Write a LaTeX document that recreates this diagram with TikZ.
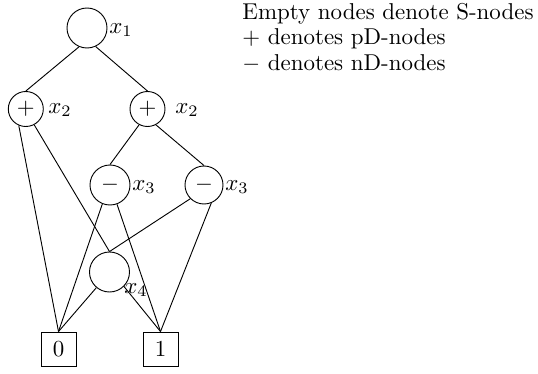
\documentclass[tikz,border=0pt]{standalone}
\begin{document}
\begin{tikzpicture}[x=0.436pt,y=-0.436pt,
  cnode/.style={draw,circle,inner sep=0pt},
  big/.style={cnode,minimum size=40*0.436pt},
  small/.style={cnode,minimum size=35*0.436pt},
  leaf/.style={draw,rectangle,inner sep=0pt,minimum width=35*0.436pt,minimum height=34*0.436pt},
  lbl/.style={inner sep=0pt},
  txt/.style={anchor=base west,inner sep=0pt},
  edge/.style={line width=0.4pt}]
\useasboundingbox (0,0) rectangle (538,373);
% nodes
\node[big] (n1) at (87,28) {};
\node[small] (lp) at (25.8,109) {$+$};
\node[small] (rp) at (147.5,109) {$+$};
\node[big] (lm) at (110,185) {$-$};
\node[cnode,minimum size=38*0.436pt] (rm) at (204,185) {$-$};
\node[big] (n4) at (109.5,272) {};
\node[leaf] (b0) at (58.5,349) {$0$};
\node[leaf] (b1) at (160.5,349) {$1$};
% labels
\node[lbl] (l1) at (121,30) {$x_1$};
\node[lbl] (l2a) at (60,110) {$x_2$};
\node[lbl] (l2b) at (187,110) {$x_2$};
\node[lbl] (l3a) at (144,187) {$x_3$};
\node[lbl] (l3b) at (237,187) {$x_3$};
\node[lbl] (l4) at (136,290) {$x_4$};
% edges
\draw[edge] (n1.-113) -- (lp.north);
\draw[edge] (n1.-65) -- (rp.north);
\draw[edge] (lp.-113) -- (b0.north);
\draw[edge] (lp.-62) -- (n4.north);
\draw[edge] (rp.-118) -- (lm.north);
\draw[edge] (rp.-62) -- (rm.north);
\draw[edge] (lm.-112) -- (b0.north);
\draw[edge] (lm.-70) -- (b1.north);
\draw[edge] (rm.-135) -- (n4.north);
\draw[edge] (rm.-68) -- (b1.north);
\draw[edge] (n4.-130) -- (b0.north);
\draw[edge] (n4.-45) -- (b1.north);
% legend
\node[txt] (t1) at (242,19.5) {Empty nodes denote S-nodes};
\node[txt] (t2) at (242,45) {$+$ denotes pD-nodes};
\node[txt] (t3) at (242,70.5) {$-$ denotes nD-nodes};
\end{tikzpicture}
\end{document}
